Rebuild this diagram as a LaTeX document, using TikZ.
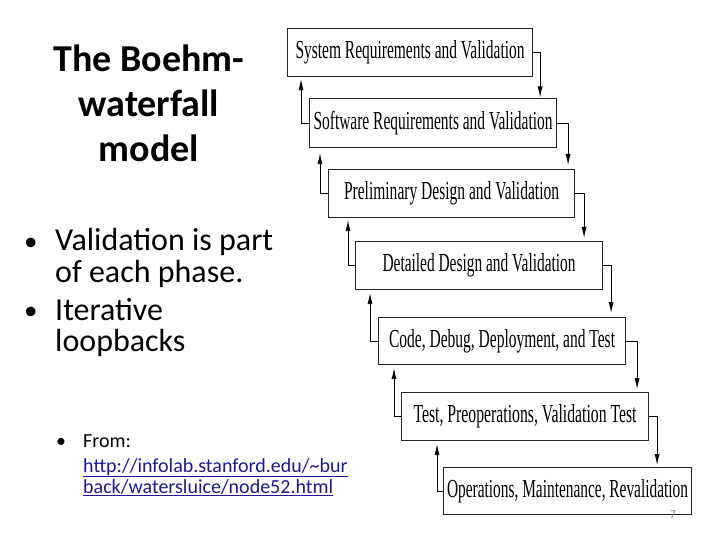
\documentclass[tikz,border=0pt]{standalone}
\usepackage{fontspec}
\setmainfont{Carlito}
\newfontfamily\boxfont{Liberation Serif}
\usetikzlibrary{arrows.meta}
\definecolor{linkblue}{RGB}{26,26,150}
\definecolor{pagegrey}{RGB}{140,140,140}
\newcommand\bxt[2]{\resizebox{#1pt}{\height}{\boxfont\fontsize{26}{26}\selectfont #2}}
\tikzset{
  phase/.style={draw=black!85, line width=1.1pt, anchor=north west, inner sep=0pt, align=center},
  conn/.style={draw=black, line width=0.8pt, -{Latex[length=11pt,width=5pt]}, shorten >=0.5pt},
  bigtxt/.style={anchor=base west, inner sep=0pt, font=\fontsize{32}{32}\selectfont},
  bigbul/.style={anchor=base west, inner sep=0pt, font=\fontsize{27}{27}\selectfont},
  smalltxt/.style={anchor=base west, inner sep=0pt, font=\fontsize{20}{20}\selectfont},
}
\begin{document}
\begin{tikzpicture}[x=1pt,y=-1pt]
\useasboundingbox (0,0) rectangle (720,540);
% title
\node[font=\bfseries\fontsize{38}{45}\selectfont, align=center, inner sep=0pt] (title) at (149,103) {The Boehm-\\waterfall\\model};
% bullets
\node[bigbul] (bul1) at (24,250) {•};
\node[bigtxt] (l1) at (55,251) {Validation is part};
\node[bigtxt] (l2) at (55,282) {of each phase.};
\node[bigbul] (bul2) at (24,319) {•};
\node[bigtxt] (l3) at (55,320) {Iterative};
\node[bigtxt] (l4) at (55,351) {loopbacks};
% source
\node[smalltxt] (bul3) at (56,447) {•};
\node[smalltxt] (s1) at (83,447) {From:};
\node[smalltxt, text=linkblue] (s2) at (83,472) {\underline{http://infolab.stanford.edu/\textasciitilde bur}};
\node[smalltxt, text=linkblue] (s3) at (83,493) {\underline{back/watersluice/node52.html}};
% phases
\node[phase, minimum width=245, minimum height=48] (b1) at (287,28) {\bxt{229}{System Requirements and Validation}};
\node[phase, minimum width=247, minimum height=49] (b2) at (309,98) {\bxt{239}{Software Requirements and Validation}};
\node[phase, minimum width=246, minimum height=48] (b3) at (328,169) {\bxt{215}{Preliminary Design and Validation}};
\node[phase, minimum width=247, minimum height=48] (b4) at (355,241) {\bxt{193}{Detailed Design and Validation}};
\node[phase, minimum width=247, minimum height=47] (b5) at (378,317) {\bxt{226}{Code, Debug, Deployment, and Test}};
\node[phase, minimum width=247, minimum height=48] (b6) at (401,392) {\bxt{223}{Test, Preoperations, Validation Test}};
\node[phase, minimum width=248, minimum height=47] (b7) at (443,467) {\bxt{241}{Operations, Maintenance, Revalidation}};
% down connectors
\path (b1.east) ++(7,0) coordinate (d1);
\path (b2.east) ++(11,0) coordinate (d2);
\path (b3.east) ++(9,0) coordinate (d3);
\path (b4.east) ++(8,0) coordinate (d4);
\path (b5.east) ++(11,0) coordinate (d5);
\path (b6.east) ++(8,0) coordinate (d6);
\draw[conn] (b1.east) -- (d1) -- (d1 |- b2.north);
\draw[conn, shorten >=4pt] (b2.east) -- (d2) -- (d2 |- b3.north);
\draw[conn, shorten >=3pt] (b3.east) -- (d3) -- (d3 |- b4.north);
\draw[conn, shorten >=4pt] (b4.east) -- (d4) -- (d4 |- b5.north);
\draw[conn, shorten >=3pt] (b5.east) -- (d5) -- (d5 |- b6.north);
\draw[conn, shorten >=2pt] (b6.east) -- (d6) -- (d6 |- b7.north);
% up connectors
\path (b2.west) ++(-8,0) coordinate (u1);
\path (b3.west) ++(-8,0) coordinate (u2);
\path (b4.west) ++(-7,0) coordinate (u3);
\path (b5.west) ++(-8,0) coordinate (u4);
\path (b6.west) ++(-7,0) coordinate (u5);
\path (b7.west) ++(-6,0) coordinate (u6);
\draw[conn, shorten >=2pt] (b2.west) -- (u1) -- (u1 |- b1.south);
\draw[conn, shorten >=5pt] (b3.west) -- (u2) -- (u2 |- b2.south);
\draw[conn, shorten >=2pt] (b4.west) -- (u3) -- (u3 |- b3.south);
\draw[conn, shorten >=3pt] (b5.west) -- (u4) -- (u4 |- b4.south);
\draw[conn, shorten >=3pt] (b6.west) -- (u5) -- (u5 |- b5.south);
\draw[conn, shorten >=3pt] (b7.west) -- (u6) -- (u6 |- b6.south);
% page number
\node[font=\fontsize{12}{12}\selectfont, text=pagegrey, inner sep=0pt] (pg) at (673,515) {7};
\end{tikzpicture}
\end{document}
